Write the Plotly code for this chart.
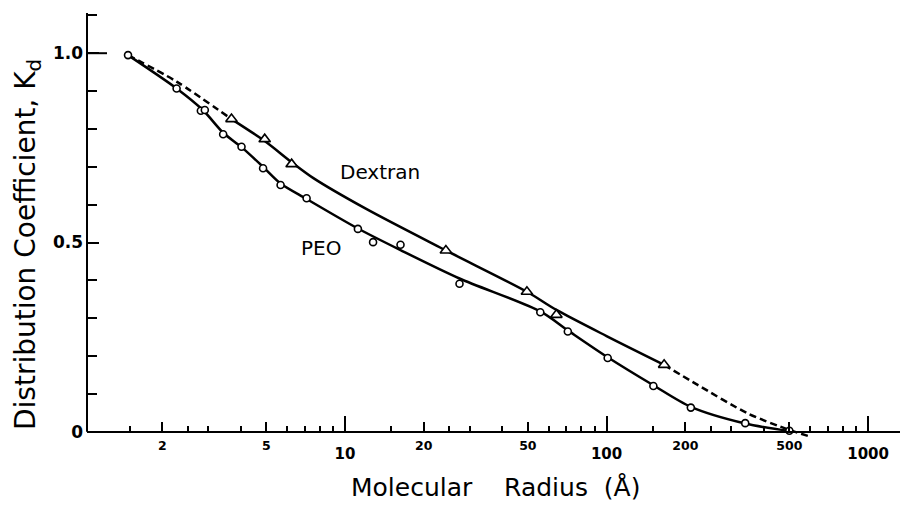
import plotly.graph_objects as go
import math

# ---------------- data ----------------
# PEO measured points (open circles)
peo_x = [1.48, 2.27, 2.81, 2.91, 3.42, 4.02, 4.86, 5.67, 7.13, 11.2, 12.8, 16.3,
         27.4, 55.8, 71.1, 101, 151, 210, 339, 500]
peo_y = [0.995, 0.907, 0.848, 0.850, 0.786, 0.753, 0.696, 0.652, 0.617, 0.536, 0.501, 0.494,
         0.391, 0.316, 0.265, 0.195, 0.121, 0.064, 0.023, 0.003]

# Dextran measured points (open triangles)
dex_x = [3.68, 4.93, 6.25, 24.3, 49.6, 64.3, 166]
dex_y = [0.826, 0.773, 0.707, 0.479, 0.370, 0.309, 0.177]

# drawn curves
peo_curve_x = [1.48, 2.27, 2.86, 3.42, 4.02, 4.86, 5.67, 7.13, 11.2, 16.3, 27.4,
               55.8, 71.1, 101, 151, 210, 339, 500]
peo_curve_y = [0.995, 0.907, 0.850, 0.790, 0.752, 0.700, 0.656, 0.615, 0.537, 0.480, 0.405,
               0.318, 0.268, 0.197, 0.123, 0.066, 0.022, 0.002]

dex_curve_start_x = [1.48, 2.27, 3.68]
dex_curve_start_y = [0.995, 0.925, 0.826]
dex_curve_mid_x = [3.68, 4.93, 6.25, 7.57, 12.1, 24.3, 49.6, 64.3, 100, 166]
dex_curve_mid_y = [0.826, 0.768, 0.712, 0.670, 0.588, 0.479, 0.370, 0.322, 0.253, 0.177]
dex_curve_end_x = [166, 223, 346, 500, 605]
dex_curve_end_y = [0.177, 0.124, 0.049, 0.005, -0.013]

# axis ticks
x_major_vals = [10, 100, 1000]
x_major_text = ["10", "100", "1000"]
x_mid_vals = [2, 5, 20, 50, 200, 500]
x_mid_text = ["2", "5", "20", "50", "200", "500"]
x_minor_vals = [1.5, 2.5, 3, 4, 6, 7, 8, 9, 15, 25, 30, 40, 60, 70, 80, 90,
                150, 250, 300, 400, 600, 700, 800, 900]
y_tick_vals = [0, 0.5, 1.0]
y_tick_text = ["0", "0.5", "1.0"]

labels = ["Dextran", "PEO"]
label_x = [13.6, 8.09]
label_y = [0.686, 0.486]

# ---------------- figure ----------------
FONT = "DejaVu Sans"
BLACK = "black"
XR = [0.0134, 3.122]
YR = [-0.04, 1.1062]
xpos = (0 - YR[0]) / (YR[1] - YR[0])

fig = go.Figure()

fig.add_trace(go.Scatter(x=peo_curve_x, y=peo_curve_y, mode="lines",
                         line=dict(color=BLACK, width=2.5, shape="spline", smoothing=0.8),
                         showlegend=False, hoverinfo="skip"))
fig.add_trace(go.Scatter(x=dex_curve_start_x, y=dex_curve_start_y, mode="lines",
                         line=dict(color=BLACK, width=2.5, dash="7px,4px", shape="spline", smoothing=0.8),
                         showlegend=False, hoverinfo="skip"))
fig.add_trace(go.Scatter(x=dex_curve_mid_x, y=dex_curve_mid_y, mode="lines",
                         line=dict(color=BLACK, width=2.5, shape="spline", smoothing=0.8),
                         showlegend=False, hoverinfo="skip"))
fig.add_trace(go.Scatter(x=dex_curve_end_x, y=dex_curve_end_y, mode="lines",
                         line=dict(color=BLACK, width=2.5, dash="7px,4px", shape="spline", smoothing=0.8),
                         showlegend=False, hoverinfo="skip"))

fig.add_trace(go.Scatter(x=peo_x, y=peo_y, mode="markers", name="PEO",
                         marker=dict(symbol="circle", size=7, color="white",
                                     line=dict(color=BLACK, width=1.6)),
                         showlegend=False))
fig.add_trace(go.Scatter(x=dex_x, y=dex_y, mode="markers", name="Dextran", xaxis="x2",
                         marker=dict(symbol="triangle-up", size=10, color="white",
                                     line=dict(color=BLACK, width=1.6)),
                         showlegend=False))

axis_common = dict(type="log", range=XR, anchor="free", position=xpos,
                   showgrid=False, zeroline=False, ticks="inside", tickcolor=BLACK)

fig.update_layout(
    width=900, height=505,
    margin=dict(l=87, r=0, t=13, b=58),
    paper_bgcolor="white", plot_bgcolor="white",
    font=dict(family=FONT, color=BLACK),
    xaxis=dict(**axis_common, showline=True, linecolor=BLACK, linewidth=2,
               tickmode="array", tickvals=x_major_vals, ticktext=x_major_text,
               ticklen=15, tickwidth=2,
               tickfont=dict(family=FONT, size=15, color=BLACK, weight="bold"),
               ticklabelstandoff=8,
               minor=dict(tickmode="array", tickvals=x_minor_vals, ticks="inside",
                          ticklen=5, tickwidth=1.6, tickcolor=BLACK, showgrid=False)),
    xaxis2=dict(**axis_common, overlaying="x", side="bottom", showline=False,
                tickmode="array", tickvals=x_mid_vals, ticktext=x_mid_text,
                ticklen=10, tickwidth=2,
                tickfont=dict(family=FONT, size=12.5, color=BLACK, weight="bold"),
                ticklabelstandoff=5),
    yaxis=dict(range=YR, showgrid=False, zeroline=False, showline=False,
               tickmode="array", tickvals=y_tick_vals, ticktext=y_tick_text,
               ticks="inside", ticklen=12, tickwidth=2, tickcolor=BLACK,
               tickfont=dict(family=FONT, size=17, color=BLACK, weight="bold"),
               ticklabelstandoff=3,
               minor=dict(dtick=0.1, tick0=0, ticks="inside", ticklen=10, tickwidth=1.6,
                          tickcolor=BLACK, showgrid=False)),
)

# y axis line from 0 upward
fig.add_shape(type="line", xref="x domain", yref="y", x0=0, x1=0, y0=0, y1=YR[1],
              line=dict(color=BLACK, width=2))
# longer tick at 1.0
fig.add_shape(type="line", xref="x domain", yref="y", x0=0, x1=20 / 813,
              y0=y_tick_vals[2], y1=y_tick_vals[2], line=dict(color=BLACK, width=2))

# curve labels (annotation x on a log axis is given in log10 units)
for t, lx, ly in zip(labels, label_x, label_y):
    fig.add_annotation(x=math.log10(lx), y=ly, text=t, showarrow=False,
                       xanchor="center", yanchor="middle",
                       font=dict(family=FONT, size=20, color=BLACK))

# axis titles
fig.add_annotation(xref="paper", yref="paper", x=(495 - 87) / 813, y=(505 - 58 - 487) / 434,
                   xanchor="center", yanchor="middle",
                   text="Molecular\u00a0\u00a0\u00a0\u00a0Radius\u00a0\u00a0(\u00c5)",
                   showarrow=False, font=dict(family=FONT, size=25, color=BLACK))
fig.add_annotation(xref="paper", yref="paper", x=(27 - 87) / 813, y=(505 - 58 - 245) / 434,
                   xanchor="center", yanchor="middle",
                   text="Distribution Coefficient, K<sub>d</sub>", textangle=-90,
                   showarrow=False, font=dict(family=FONT, size=28, color=BLACK))

fig.write_html("out.html")
